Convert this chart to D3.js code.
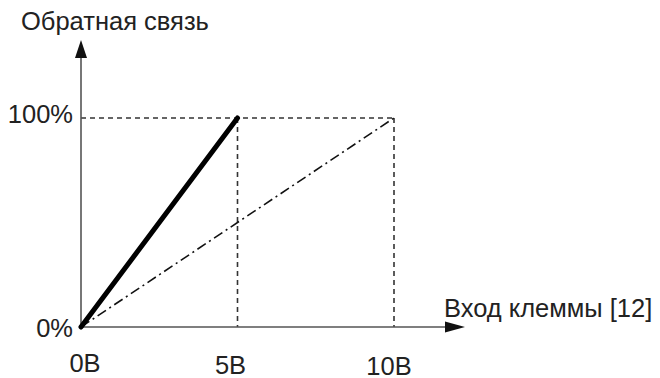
<!DOCTYPE html>
<html><head><meta charset="utf-8">
<script src="https://cdn.jsdelivr.net/npm/d3@7"></script>
<style>
html,body{margin:0;padding:0;background:#fff;}
svg{display:block;font-family:"Liberation Sans",Arial,sans-serif;}
</style></head>
<body><svg id="c" width="660" height="378"></svg>
<script>
const xTicks = [0, 5, 10];
const xTickLabels = ["0В", "5В", "10В"];
const yTicks = [0, 100];
const yTickLabels = ["0%", "100%"];
const seriesGain200 = [{x: 0, y: 0}, {x: 5, y: 100}];
const seriesGain100 = [{x: 0, y: 0}, {x: 10, y: 100}];
const yTitle = "Обратная связь";
const xTitle = "Вход клеммы [12]";

const svg = d3.select("#c");
const x = d3.scaleLinear().domain([0, 10]).range([81, 394]);
const y = d3.scaleLinear().domain([0, 100]).range([327, 118]);
const ink = "#222";
const fs = 25.5;

// guide lines (dotted)
const g = svg.append("g").attr("stroke", "#333").attr("stroke-width", 1.6).attr("stroke-dasharray", "5,4").attr("fill", "none");
g.append("line").attr("x1", x(0)).attr("x2", x(10)).attr("y1", y(100)).attr("y2", y(100));
[5, 10].forEach(v => g.append("line").attr("x1", x(v)).attr("x2", x(v)).attr("y1", y(100)).attr("y2", y(0)));

// axes
const ax = svg.append("g").attr("stroke", "#555").attr("stroke-width", 1.6);
ax.append("line").attr("x1", x(0)).attr("x2", 450).attr("y1", y(0)).attr("y2", y(0));
ax.append("line").attr("x1", x(0)).attr("x2", x(0)).attr("y1", y(0)).attr("y2", 56);
svg.append("path").attr("d", `M465,${y(0)} L445,${y(0)-5.5} L445,${y(0)+5.5} Z`).attr("fill", "#111");
svg.append("path").attr("d", `M${x(0)},40 L${x(0)-6},58 L${x(0)+6},58 Z`).attr("fill", "#111");

// series
const line = d3.line().x(d => x(d.x)).y(d => y(d.y));
svg.append("path").datum(seriesGain100).attr("d", line).attr("fill", "none")
  .attr("stroke", "#111").attr("stroke-width", 1.6).attr("stroke-dasharray", "10,4,2,4");
svg.append("path").datum(seriesGain200).attr("d", line).attr("fill", "none")
  .attr("stroke", "#000").attr("stroke-width", 5).attr("stroke-linecap", "round");

// tick labels
const xBase = [372, 373.5, 374.5];
const xOffset = [4, -7, -5];
xTicks.forEach((t, i) => {
  svg.append("text").attr("x", x(t) + xOffset[i]).attr("y", xBase[i])
    .attr("text-anchor", "middle").attr("font-size", fs).attr("fill", ink).text(xTickLabels[i]);
});
const yBase = [337, 123];
yTicks.forEach((t, i) => {
  svg.append("text").attr("x", 73).attr("y", yBase[i]).attr("text-anchor", "end")
    .attr("font-size", fs).attr("fill", ink).text(yTickLabels[i]);
});

// titles
svg.append("text").attr("x", 21).attr("y", 30).attr("font-size", fs).attr("fill", ink).text(yTitle);
svg.append("text").attr("x", 444).attr("y", 317).attr("font-size", fs).attr("fill", ink).text(xTitle);
</script></body></html>
